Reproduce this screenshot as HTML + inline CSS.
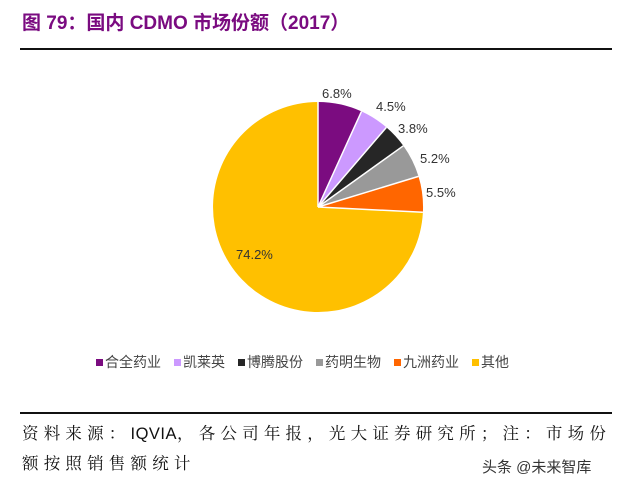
<!DOCTYPE html>
<html><head><meta charset="utf-8"><style>
body{margin:0;width:640px;height:493px;background:#fff;position:relative;overflow:hidden;font-family:"Liberation Sans","Noto Sans CJK SC",sans-serif}
.t{position:absolute;left:22px;top:8px;font-size:19px;font-weight:bold;color:#7a0b80;letter-spacing:0px}
.l{position:absolute;left:20px;width:592px;height:2px;background:#111}
.src{position:absolute;left:22px;font-family:"Liberation Serif","Noto Serif CJK SC",serif;font-size:16.5px;color:#111;letter-spacing:5.2px}
.src b{font-family:"Liberation Sans",sans-serif;font-weight:normal;letter-spacing:0.5px}
.leg{position:absolute;top:352px;left:96px;font-size:14px;color:#444;white-space:nowrap}
.leg span{margin-right:13px}
.leg i{display:inline-block;width:7px;height:7px;margin-right:2px;vertical-align:1px}
.wm{position:absolute;left:482px;top:456px;font-size:15px;color:#333}
</style></head><body>
<div class="t">图 79：国内 CDMO 市场份额（2017）</div>
<div class="l" style="top:48px"></div>
<svg width="640" height="340" style="position:absolute;left:0;top:0">
<path d="M318,207 L318,102 A105,105 0 0 1 361.5,111.4Z" fill="#7b0c80"/>
<path d="M318,207 L361.5,111.4 A105,105 0 0 1 386.4,127.4Z" fill="#cc99ff"/>
<path d="M318,207 L386.4,127.4 A105,105 0 0 1 403.3,145.8Z" fill="#262626"/>
<path d="M318,207 L403.3,145.8 A105,105 0 0 1 418.5,176.4Z" fill="#999999"/>
<path d="M318,207 L418.5,176.4 A105,105 0 0 1 422.9,212.3Z" fill="#ff6600"/>
<path d="M318,207 L422.9,212.3 A105,105 0 1 1 318,102Z" fill="#ffc000"/>
<g stroke="#fff" stroke-width="1.5"><line x1="318" y1="207" x2="318" y2="102"/><line x1="318" y1="207" x2="361.5" y2="111.4"/><line x1="318" y1="207" x2="386.4" y2="127.4"/><line x1="318" y1="207" x2="403.3" y2="145.8"/><line x1="318" y1="207" x2="418.5" y2="176.4"/><line x1="318" y1="207" x2="422.9" y2="212.3"/></g>
<g font-size="13" fill="#333" font-family="Liberation Sans,sans-serif">
<text x="322" y="98">6.8%</text><text x="376" y="111">4.5%</text><text x="398" y="133">3.8%</text><text x="420" y="163">5.2%</text><text x="426" y="197">5.5%</text><text x="236" y="259">74.2%</text></g>
</svg>
<div class="leg"><span><i style="background:#7b0c80"></i>合全药业</span><span><i style="background:#cc99ff"></i>凯莱英</span><span><i style="background:#262626"></i>博腾股份</span><span><i style="background:#999"></i>药明生物</span><span><i style="background:#ff6600"></i>九洲药业</span><span><i style="background:#ffc000"></i>其他</span></div>
<div class="l" style="top:412px"></div>
<div class="src" style="top:420px">资料来源：<b>IQVIA</b>，各公司年报，光大证券研究所；注：市场份</div>
<div class="src" style="top:450px">额按照销售额统计</div>
<div class="wm">头条 @未来智库</div>
</body></html>
